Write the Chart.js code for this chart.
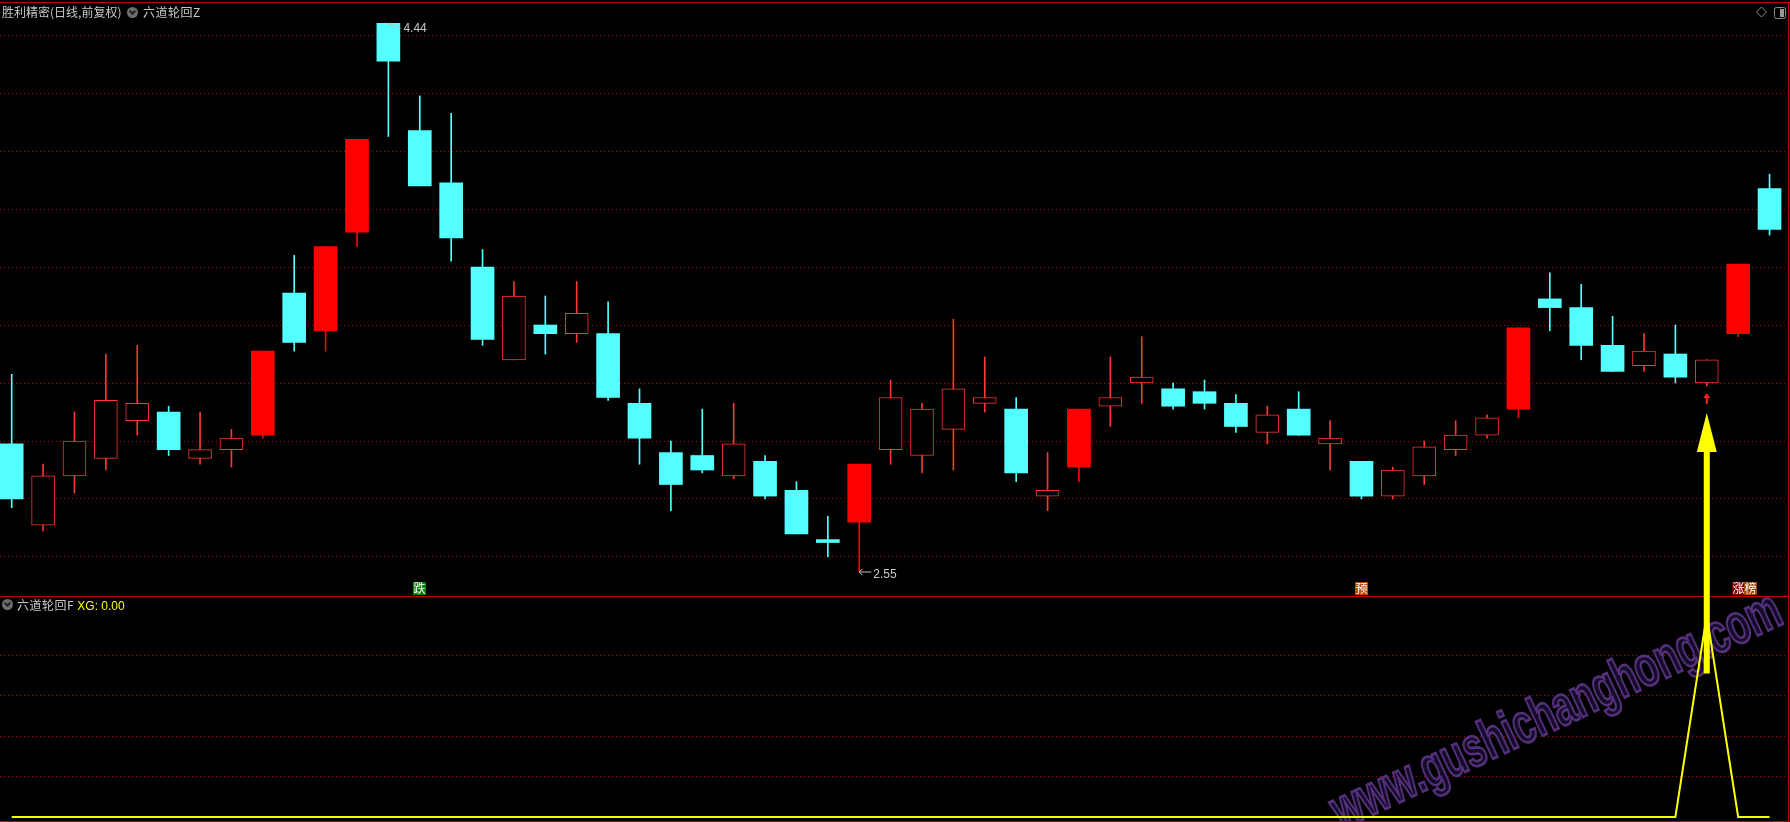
<!DOCTYPE html>
<html>
<head>
<meta charset="utf-8">
<script src="https://cdn.jsdelivr.net/npm/chart.js@4/dist/chart.umd.min.js"></script>
<style>
html, body { margin: 0; padding: 0; background: #000; overflow: hidden; }
#wrap { position: relative; width: 1790px; height: 822px; }
#kline { position: absolute; left: 0; top: 0; }
.hdr { position: absolute; font: 12px "Noto Sans CJK SC", sans-serif; color: #c8c8c8; line-height: 14px; white-space: nowrap; }
.xg { color: #ffff00; font: 12px "Liberation Sans", sans-serif; letter-spacing: 0; }
.ico { position: absolute; width: 11px; height: 11px; border-radius: 50%; background: #6e6e6e; }
.ico::after { content: ''; position: absolute; left: 3px; top: 2px; width: 3px; height: 3px;
  border-right: 2px solid #222; border-bottom: 2px solid #222; transform: rotate(45deg); }
</style>
</head>
<body>
<div id="wrap">
  <canvas id="kline" width="1790" height="822"></canvas>
  <div class="hdr" style="left:2px;top:5px">胜利精密(日线,前复权)</div>
  <div class="ico" style="left:127px;top:7px"></div>
  <div class="hdr" style="left:143px;top:5px;letter-spacing:0.5px">六道轮回Z</div>
  <div class="ico" style="left:2px;top:599px"></div>
  <div class="hdr" style="left:17px;top:598px;letter-spacing:0.5px">六道轮回F <span class="xg">XG: 0.00</span></div>
</div>
<script>
// 日K数据 (前复权)
const opens  = [2.99, 2.71, 2.88, 2.94, 3.07, 3.10, 2.94, 2.97, 3.02, 3.51,
                3.38, 3.72, 4.44, 4.07, 3.89, 3.60, 3.28, 3.40, 3.37, 3.37,
                3.13, 2.96, 2.95, 2.88, 2.93, 2.83, 2.66, 2.72, 2.97, 2.95,
                3.04, 3.13, 3.11, 2.81, 2.91, 3.12, 3.20, 3.18, 3.17, 3.13,
                3.03, 3.11, 2.99, 2.93, 2.81, 2.88, 2.97, 3.02, 3.11, 3.49,
                3.46, 3.33, 3.26, 3.30, 3.20, 3.37, 3.87];
const highs  = [3.23, 2.92, 3.10, 3.30, 3.33, 3.12, 3.10, 3.04, 3.31, 3.64,
                3.67, 4.04, 4.44, 4.19, 4.13, 3.66, 3.55, 3.50, 3.55, 3.48,
                3.18, 3.00, 3.11, 3.13, 2.95, 2.86, 2.74, 2.92, 3.21, 3.13,
                3.42, 3.29, 3.15, 2.96, 3.11, 3.29, 3.36, 3.20, 3.21, 3.16,
                3.12, 3.17, 3.07, 2.93, 2.91, 3.00, 3.07, 3.09, 3.39, 3.58,
                3.54, 3.43, 3.37, 3.40, 3.28, 3.61, 3.92];
const lows   = [2.77, 2.69, 2.82, 2.90, 3.02, 2.95, 2.92, 2.91, 3.01, 3.31,
                3.31, 3.67, 4.05, 3.88, 3.62, 3.33, 3.28, 3.30, 3.34, 3.14,
                2.92, 2.76, 2.89, 2.87, 2.80, 2.68, 2.60, 2.55, 2.92, 2.89,
                2.90, 3.10, 2.86, 2.76, 2.86, 3.05, 3.13, 3.11, 3.11, 3.03,
                2.99, 3.02, 2.90, 2.80, 2.80, 2.85, 2.95, 3.01, 3.08, 3.38,
                3.28, 3.24, 3.24, 3.20, 3.19, 3.36, 3.71];
const closes = [2.80, 2.88, 3.00, 3.14, 3.13, 2.97, 2.97, 3.01, 3.31, 3.34,
                3.67, 4.04, 4.31, 3.88, 3.70, 3.35, 3.50, 3.37, 3.44, 3.15,
                3.01, 2.85, 2.90, 2.99, 2.81, 2.68, 2.65, 2.92, 3.15, 3.11,
                3.18, 3.15, 2.89, 2.83, 3.11, 3.15, 3.22, 3.12, 3.13, 3.05,
                3.09, 3.02, 3.01, 2.81, 2.90, 2.98, 3.02, 3.08, 3.39, 3.46,
                3.33, 3.24, 3.31, 3.22, 3.28, 3.61, 3.73];
// 实心红K的位置
const solidUp = [8, 10, 11, 27, 34, 48, 55];
// 六道轮回F 的 XG 信号
const xg = [0, 0, 0, 0, 0, 0, 0, 0, 0, 0,
            0, 0, 0, 0, 0, 0, 0, 0, 0, 0,
            0, 0, 0, 0, 0, 0, 0, 0, 0, 0,
            0, 0, 0, 0, 0, 0, 0, 0, 0, 0,
            0, 0, 0, 0, 0, 0, 0, 0, 0, 0,
            0, 0, 0, 0, 1, 0, 0];
// 主图文字信号
const signalIdx  = [13, 43, 55];
const signalText = ['跌', '预', '涨榜'];
// 网格线
const priceGrid = [2.6, 2.8, 3.0, 3.2, 3.4, 3.6, 3.8, 4.0, 4.2, 4.4];
const xgGrid = [0.2, 0.4, 0.6, 0.8];
const watermark = 'www.gushichanghong.com';

const CYAN = '#54ffff';
const RED = '#ff0000';
const HOLLOW = '#ff3434';
const signalBg = { '跌': '#0a7d0a', '预': '#b8470f', '涨': '#7d0000', '榜': '#9a4a0c' };

const isDown = i => closes[i] < opens[i];
const isSolid = i => solidUp.includes(i);
const lineColor = i => isDown(i) ? CYAN : (isSolid(i) ? RED : HOLLOW);
const bodyFill = i => isDown(i) ? CYAN : (isSolid(i) ? RED : '#000000');

const idx = opens.map((_, i) => i);

const drawWatermark = (ctx) => {
    ctx.save();
    ctx.translate(1557, 712);
    ctx.rotate(-25 * Math.PI / 180);
    ctx.font = 'bold 40px "Liberation Sans", sans-serif';
    const w = ctx.measureText(watermark).width;
    ctx.scale(490 / w, 1.4);
    ctx.textAlign = 'center';
    ctx.textBaseline = 'middle';
    ctx.lineWidth = 2;
    ctx.fillStyle = '#150c2c';
    ctx.strokeStyle = '#54307a';
    ctx.fillText(watermark, 0, 0);
    ctx.strokeText(watermark, 0, 0);
    ctx.restore();
};

const overlay = {
    id: 'overlay',
    beforeDatasetsDraw(chart) {
        drawWatermark(chart.ctx);
    },
    afterDraw(chart) {
        const ctx = chart.ctx;
        const xs = chart.scales.x;
        const ys = chart.scales.y;
        const ys2 = chart.scales.y2;
        ctx.save();

        // 边框
        ctx.strokeStyle = '#c00000';
        ctx.lineWidth = 1;
        ctx.beginPath();
        ctx.moveTo(0, 2.5); ctx.lineTo(1790, 2.5);
        ctx.moveTo(1788.5, 2); ctx.lineTo(1788.5, 822);
        ctx.moveTo(0, 596.5); ctx.lineTo(1788, 596.5);
        ctx.moveTo(0, 821.5); ctx.lineTo(1788, 821.5);
        ctx.stroke();

        // 最高 / 最低价标注
        const hi = Math.max(...highs), hiI = highs.indexOf(hi);
        const lo = Math.min(...lows), loI = lows.indexOf(lo);
        ctx.strokeStyle = '#c0c0c0';
        ctx.fillStyle = '#c8c8c8';
        ctx.font = '12px "Liberation Sans", sans-serif';
        ctx.textBaseline = 'middle';
        let x = xs.getPixelForValue(hiI), y = ys.getPixelForValue(hi);
        ctx.beginPath();
        ctx.moveTo(x + 12, y + 5); ctx.lineTo(x, y);
        ctx.moveTo(x, y); ctx.lineTo(x + 4, y);
        ctx.moveTo(x, y); ctx.lineTo(x + 1, y + 3);
        ctx.stroke();
        ctx.fillText(hi.toFixed(2), x + 15, y + 5);
        x = xs.getPixelForValue(loI); y = ys.getPixelForValue(lo);
        ctx.beginPath();
        ctx.moveTo(x, y + 0.5); ctx.lineTo(x + 12, y + 0.5);
        ctx.moveTo(x, y + 0.5); ctx.lineTo(x + 3, y - 2.5);
        ctx.moveTo(x, y + 0.5); ctx.lineTo(x + 3, y + 3.5);
        ctx.stroke();
        ctx.fillText(lo.toFixed(2), x + 14, y + 3);

        // 文字信号
        ctx.font = '12px "Noto Sans CJK SC", sans-serif';
        ctx.textBaseline = 'middle';
        ctx.textAlign = 'center';
        signalIdx.forEach((si, k) => {
            let sx = xs.getPixelForValue(si) - 6.5;
            [...signalText[k]].forEach(ch => {
                ctx.fillStyle = signalBg[ch];
                ctx.fillRect(Math.round(sx), 582, 13, 13);
                ctx.fillStyle = '#ffffff';
                ctx.fillText(ch, Math.round(sx) + 6.5, 588.5);
                sx += 12.5;
            });
        });

        // 买点箭头
        const ai = xg.indexOf(1);
        const ax = xs.getPixelForValue(ai);
        const ay = ys.getPixelForValue(lows[ai]);
        ctx.fillStyle = '#ff2020';
        ctx.beginPath();
        ctx.moveTo(ax, ay + 7); ctx.lineTo(ax + 3.5, ay + 12); ctx.lineTo(ax - 3.5, ay + 12);
        ctx.closePath(); ctx.fill();
        ctx.fillRect(ax - 1, ay + 11, 2, 7);

        const bottom = ys2.getPixelForValue(0.71);
        ctx.fillStyle = '#ffff00';
        ctx.beginPath();
        ctx.moveTo(ax, ay + 27);
        ctx.lineTo(ax + 10, ay + 66);
        ctx.lineTo(ax + 3, ay + 66);
        ctx.lineTo(ax + 3, bottom);
        ctx.lineTo(ax - 3, bottom);
        ctx.lineTo(ax - 3, ay + 66);
        ctx.lineTo(ax - 10, ay + 66);
        ctx.closePath();
        ctx.fill();

        // 右上角图标
        ctx.strokeStyle = '#8c8c8c';
        ctx.lineWidth = 1;
        ctx.beginPath();
        ctx.moveTo(1761.5, 7); ctx.lineTo(1766.5, 12); ctx.lineTo(1761.5, 17); ctx.lineTo(1756.5, 12);
        ctx.closePath(); ctx.stroke();
        ctx.beginPath();
        ctx.roundRect(1774.5, 7.5, 11, 11, 2);
        ctx.stroke();
        ctx.fillStyle = '#9a9a9a';
        ctx.fillRect(1780, 9, 4, 8);
        ctx.restore();
    }
};

const hiddenAxis = (grid, min, max) => ({
    position: 'left',
    min: min,
    max: max,
    ticks: { display: false },
    grid: { color: '#b00000', drawTicks: false, tickLength: 0, lineWidth: 1 },
    border: { display: false, dash: [1, 3] },
    afterBuildTicks: axis => { axis.ticks = grid.map(v => ({ value: v })); }
});

new Chart(document.getElementById('kline'), {
    type: 'bar',
    data: {
        datasets: [
            {
                label: 'K线实体',
                data: idx.map(i => ({ x: i, y: [opens[i], closes[i]] })),
                backgroundColor: ctx => bodyFill(ctx.dataIndex),
                borderColor: ctx => lineColor(ctx.dataIndex),
                borderWidth: ctx => (!isDown(ctx.dataIndex) && !isSolid(ctx.dataIndex)) ? 1 : 0,
                borderSkipped: false,
                barThickness: 23,
                minBarLength: 2,
                grouped: false,
                order: 0,
                yAxisID: 'y'
            },
            {
                label: '影线',
                data: idx.map(i => ({ x: i, y: [lows[i], highs[i]] })),
                backgroundColor: ctx => lineColor(ctx.dataIndex),
                borderWidth: 0,
                barThickness: 1,
                grouped: false,
                order: 1,
                yAxisID: 'y'
            },
            {
                type: 'line',
                label: 'XG',
                data: xg.map((v, i) => ({ x: i, y: v })),
                yAxisID: 'y2',
                borderColor: '#ffff00',
                borderWidth: 2,
                pointRadius: 0,
                tension: 0,
                order: 2
            }
        ]
    },
    options: {
        responsive: false,
        animation: false,
        events: [],
        layout: { padding: { left: 0, right: 2, top: 0, bottom: 0 } },
        plugins: { legend: { display: false }, tooltip: { enabled: false } },
        scales: {
            x: { type: 'linear', display: false, offset: false, min: -0.3727, max: 56.588 },
            y: hiddenAxis(priceGrid, 1.6862, 4.5207),
            y2: hiddenAxis(xgGrid, -0.02475, 4.0446)
        }
    },
    plugins: [overlay]
});
</script>
</body>
</html>
